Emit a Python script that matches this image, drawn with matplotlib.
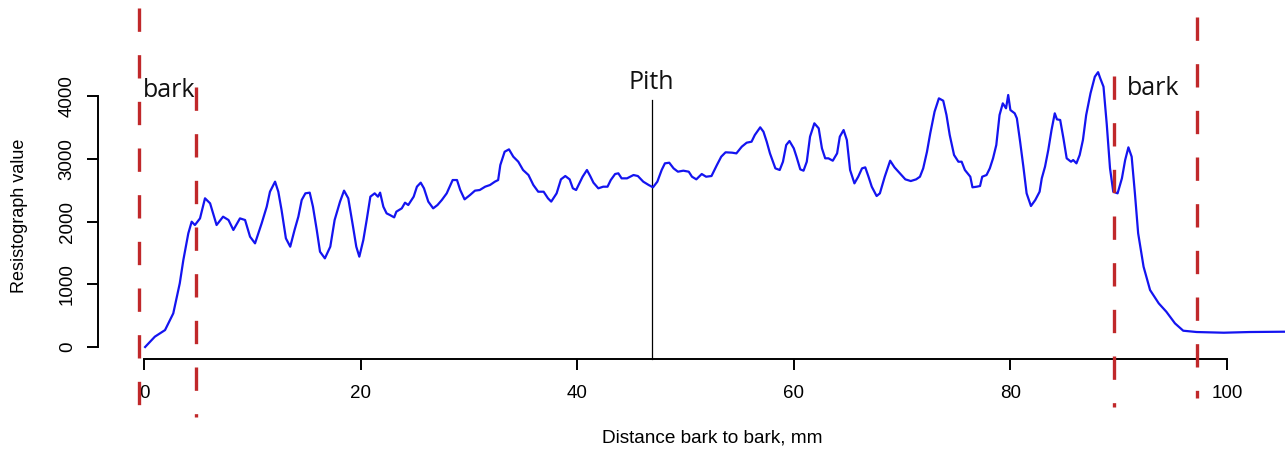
import matplotlib
matplotlib.use("Agg")
import matplotlib.pyplot as plt

# Resistograph profile (distance mm, resistance value)
dist = [0.1, 1.0, 1.94, 2.7, 3.3, 3.63, 4.09, 4.4, 4.7, 5.17, 5.63, 6.1, 6.7, 7.3, 7.8, 8.25,
        8.86, 9.33, 9.79, 10.25, 10.86, 11.33, 11.63, 12.1, 12.4, 12.7, 13.1, 13.5, 13.9, 14.25,
        14.56, 14.9, 15.3, 15.6, 15.95, 16.25, 16.7, 17.2, 17.6, 18.1, 18.47, 18.86, 19.3, 19.6,
        19.88, 20.25, 20.56, 20.9, 21.3, 21.6, 21.8, 22.1, 22.4, 22.7, 23.1, 23.3, 23.8, 24.1,
        24.4, 24.9, 25.2, 25.55, 25.85, 26.25, 26.7, 27.1, 27.5, 27.95, 28.5, 28.9, 29.2, 29.6,
        30.1, 30.56, 31.0, 31.5, 31.95, 32.4, 32.7, 32.9, 33.3, 33.7, 34.1, 34.56, 35.0, 35.5,
        35.95, 36.4, 36.9, 37.3, 37.6, 38.1, 38.5, 38.9, 39.3, 39.6, 39.9, 40.2, 40.5, 40.9,
        41.2, 41.5, 41.95, 42.4, 42.8, 43.1, 43.5, 43.8, 44.1, 44.6, 45.2, 45.6, 46.1, 46.6,
        47.0, 47.4, 47.8, 48.1, 48.5, 48.9, 49.3, 49.8, 50.3, 50.6, 51.0, 51.5, 51.9, 52.4,
        52.9, 53.3, 53.7, 54.3, 54.7, 55.2, 55.65, 56.1, 56.4, 56.9, 57.2, 57.5, 57.8, 58.3,
        58.7, 59.0, 59.3, 59.6, 60.0, 60.25, 60.6, 60.9, 61.2, 61.5, 61.9, 62.3, 62.6, 62.9,
        63.2, 63.6, 64.0, 64.25, 64.6, 64.9, 65.2, 65.6, 65.95, 66.3, 66.6, 66.9, 67.2, 67.65,
        67.95, 68.4, 68.9, 69.3, 69.8, 70.3, 70.8, 71.3, 71.65, 71.95, 72.3, 72.6, 73.0, 73.4,
        73.8, 74.1, 74.4, 74.8, 75.2, 75.5, 75.8, 76.3, 76.5, 76.9, 77.2, 77.4, 77.8, 78.1,
        78.4, 78.7, 79.0, 79.3, 79.6, 79.8, 80.0, 80.4, 80.6, 80.9, 81.2, 81.5, 81.9, 82.3,
        82.7, 82.9, 83.2, 83.5, 83.8, 84.1, 84.3, 84.6, 84.9, 85.2, 85.6, 85.8, 86.1, 86.4,
        86.7, 87.0, 87.4, 87.8, 88.1, 88.3, 88.6, 88.9, 89.2, 89.5, 89.9, 90.3, 90.6, 90.9,
        91.2, 91.5, 91.8, 92.3, 92.9, 93.7, 94.4, 95.2, 95.96, 97.2, 99.7, 102.1, 105.4]
resist = [0, 165, 270, 536, 1015, 1386, 1812, 1997, 1944, 2050, 2370, 2290, 1944, 2077, 2024, 1865,
          2050, 2024, 1758, 1652, 1970, 2236, 2475, 2635, 2475, 2183, 1732, 1599, 1865, 2077,
          2343, 2449, 2460, 2236, 1865, 1519, 1413, 1599, 2024, 2317, 2492, 2370, 1918, 1599,
          1440, 1705, 2024, 2396, 2449, 2396, 2460, 2236, 2130, 2104, 2066, 2157, 2210, 2300,
          2263, 2396, 2555, 2619, 2529, 2317, 2210, 2263, 2343, 2449, 2661, 2661, 2502, 2353,
          2422, 2492, 2502, 2555, 2582, 2635, 2661, 2900, 3112, 3150, 3033, 2953, 2821, 2741,
          2582, 2475, 2475, 2370, 2317, 2449, 2672, 2725, 2672, 2529, 2502, 2608, 2714, 2821,
          2725, 2619, 2529, 2555, 2555, 2661, 2757, 2768, 2688, 2688, 2741, 2725, 2635, 2582,
          2545, 2635, 2821, 2927, 2937, 2847, 2794, 2810, 2794, 2714, 2672, 2757, 2714, 2725,
          2900, 3033, 3103, 3097, 3086, 3193, 3256, 3272, 3378, 3501, 3431, 3272, 3086, 2847,
          2821, 2953, 3219, 3283, 3166, 3033, 2831, 2810, 2953, 3352, 3565, 3485, 3166, 3007,
          3007, 2969, 3086, 3352, 3458, 3299, 2821, 2608, 2714, 2847, 2863, 2714, 2555, 2406,
          2449, 2714, 2969, 2863, 2768, 2672, 2645, 2672, 2714, 2847, 3112, 3405, 3750, 3963,
          3925, 3697, 3378, 3060, 2953, 2953, 2821, 2714, 2545, 2555, 2566, 2714, 2741, 2847,
          3007, 3219, 3697, 3883, 3804, 4016, 3777, 3724, 3644, 3272, 2874, 2449, 2247, 2343,
          2475, 2688, 2874, 3139, 3458, 3724, 3628, 3618, 3326, 3007, 2953, 2980, 2927, 3060,
          3299, 3697, 4043, 4308, 4380, 4282, 4148, 3550, 2850, 2475, 2449, 2688, 2980, 3182,
          3033, 2449, 1812, 1280, 908, 696, 563, 377, 260, 239, 228, 239, 244]

xticks = [0, 20, 40, 60, 80, 100]
yticks = [0, 1000, 2000, 3000, 4000]

# vertical markers: (x, y_top, y_bottom)
bark_lines = [(-0.46, 5402, -1116), (4.8, 4143, -1116), (89.55, 4318, -956), (97.26, 5259, -813)]
pith_x, pith_top, pith_bottom = 46.9, 3936, -191
labels = [("bark", -0.1, 3984, "left"), ("Pith", 46.8, 4107, "center"), ("bark", 90.8, 4016, "left")]

W, H = 1285, 451
fig = plt.figure(figsize=(W / 100, H / 100), dpi=100)
ax = fig.add_axes([0, 0, 1, 1])
ax.set_xlim(-13.30, 105.36)
ax.set_ylim(-1657, 5530)

ax.plot(dist, resist, color="#1414f0", lw=1.6, clip_on=False, zorder=3)

for x, yt, yb in bark_lines:
    ax.plot([x, x], [yt, yb], color="#c0282a", lw=2.4, dashes=(7, 7), clip_on=False, zorder=4)

ax.plot([pith_x, pith_x], [pith_top, pith_bottom], color="black", lw=0.9, zorder=2)

for txt, x, y, ha in labels:
    ax.text(x, y, txt, ha=ha, va="baseline", fontsize=18, family="Open Sans", color="#111111")

for s in ["top", "right"]:
    ax.spines[s].set_visible(False)
ax.spines["left"].set_position(("data", -4.25))
ax.spines["left"].set_bounds(0, 4000)
ax.spines["bottom"].set_position(("data", -191))
ax.spines["bottom"].set_bounds(0, 100)
for s in ["left", "bottom"]:
    ax.spines[s].set_linewidth(1.4)

ax.set_xticks(xticks)
ax.set_yticks(yticks)
ax.set_xticklabels([str(v) for v in xticks], family="Liberation Sans", fontsize=13.5)
ax.set_yticklabels([str(v) for v in yticks], family="Liberation Sans", fontsize=13.5,
                   rotation=90, va="center")
ax.tick_params(axis="both", direction="out", length=8, width=1.4, color="black")
ax.tick_params(axis="x", pad=11)
ax.tick_params(axis="y", pad=8)

ax.set_xlabel("Distance bark to bark, mm", family="Liberation Sans", fontsize=13.7, va="center")
ax.xaxis.set_label_coords(712 / W, 1 - 438 / H)
ax.set_ylabel("Resistograph value", family="Liberation Sans", fontsize=13, va="center")
ax.yaxis.set_label_coords(20 / W, 1 - 216 / H)

fig.savefig("out.png", dpi=100)
